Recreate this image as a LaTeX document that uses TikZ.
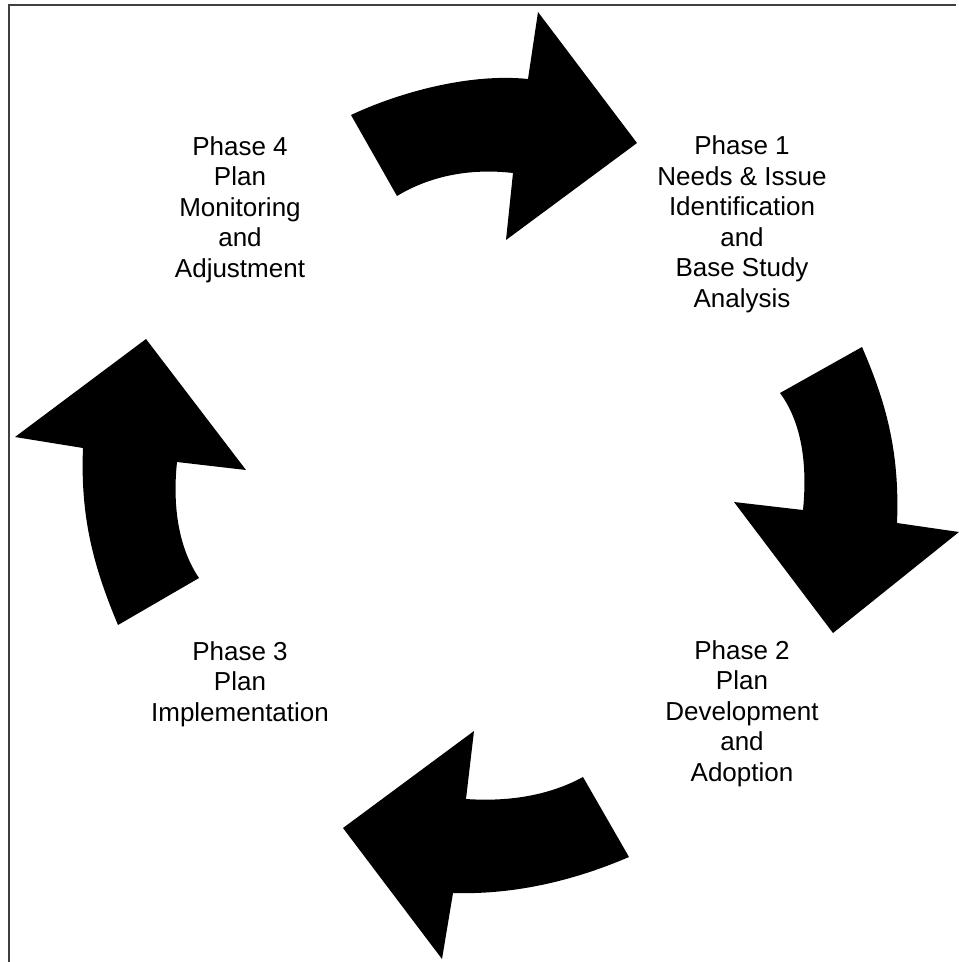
\documentclass[tikz,border=0pt]{standalone}
\usepackage{fontspec}
\setmainfont{Liberation Sans}
\begin{document}
\begin{tikzpicture}[x=1pt,y=-1pt,
  blockarrow/.style={fill=black,draw=none},
  frameline/.style={draw=black!75,line width=1.6pt},
  phasetext/.style={align=center,inner sep=0pt,anchor=base,
    font=\fontsize{26}{30.5}\selectfont}]
\useasboundingbox (0,0) rectangle (959,962);
% frame
\draw[frameline] (9,962) -- (9,5) -- (956,5);
% top arrow (Phase 4 -> Phase 1)
\fill[blockarrow] (351,115) .. controls (400,92) and (470,73) .. (528,79)
  -- (538,12) -- (637,143) -- (506,240) -- (513,173)
  .. controls (470,168) and (430,176) .. (397,196) -- cycle;
% right arrow (Phase 1 -> Phase 2)
\fill[blockarrow] (862,347) .. controls (885,400) and (900,450) .. (897,523)
  -- (959,532) -- (833,633) -- (734,502) -- (803,510)
  .. controls (808,460) and (800,420) .. (780,393) -- cycle;
% bottom arrow (Phase 2 -> Phase 3)
\fill[blockarrow] (629,857) .. controls (580,878) and (520,895) .. (453,893)
  -- (442,959) -- (343,828) -- (474,731) -- (466,799)
  .. controls (510,802) and (550,795) .. (583,777) -- cycle;
% left arrow (Phase 3 -> Phase 4)
\fill[blockarrow] (118,625) .. controls (95,570) and (80,520) .. (83,448)
  -- (15,437) -- (146,339) -- (246,470) -- (177,462)
  .. controls (172,510) and (180,550) .. (199,578) -- cycle;
% texts (base anchor = baseline of last line)
\node[phasetext] (ph4) at (240,277) {Phase 4\\Plan\\Monitoring\\and\\Adjustment};
\node[phasetext] (ph1) at (742,307) {Phase 1\\Needs \& Issue\\Identification\\and\\Base Study\\Analysis};
\node[phasetext] (ph2) at (742,781) {Phase 2\\Plan\\Development\\and\\Adoption};
\node[phasetext] (ph3) at (240,721) {Phase 3\\Plan\\Implementation};
\end{tikzpicture}
\end{document}
